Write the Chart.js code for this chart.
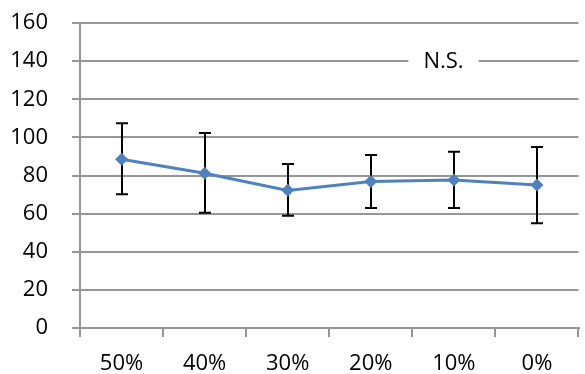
<!DOCTYPE html>
<html>
<head>
<meta charset="utf-8">
<script src="https://cdn.jsdelivr.net/npm/chart.js@4"></script>
<style>
  html, body { margin: 0; padding: 0; background: #fff; }
  #wrap { width: 585px; height: 374px; }
</style>
</head>
<body>
<div id="wrap"><canvas id="c" width="585" height="374"></canvas></div>
<script>
// Categories along the x axis
const categories = ['50%', '40%', '30%', '20%', '10%', '0%'];
// Mean values for each category
const means = [88.5, 81.2, 72.2, 76.8, 77.6, 75.0];
// Error bar limits (upper / lower)
const upper = [107.4, 102.3, 86.0, 90.8, 92.5, 95.0];
const lower = [70.1, 60.5, 58.9, 63.0, 63.0, 54.9];
// Y axis range and step
const yMin = 0, yMax = 160, yStep = 20;
// Significance note drawn on the 140 gridline
const noteText = 'N.S.';
const noteValue = 140;
const noteIndex = 3.875;

const FONT = { family: '"Open Sans", sans-serif', size: 22 };
const GRID = '#969696';

const errorBars = {
  id: 'errorBars',
  beforeDatasetsDraw(chart) {
    const { ctx, scales: { x, y } } = chart;
    ctx.save();
    ctx.strokeStyle = '#000';
    ctx.lineWidth = 2;
    const cap = 6;
    categories.forEach((_, i) => {
      const px = Math.round(x.getPixelForValue(i));
      const top = y.getPixelForValue(upper[i]);
      const bot = y.getPixelForValue(lower[i]);
      ctx.beginPath();
      ctx.moveTo(px, top); ctx.lineTo(px, bot);
      ctx.moveTo(px - cap, top); ctx.lineTo(px + cap, top);
      ctx.moveTo(px - cap, bot); ctx.lineTo(px + cap, bot);
      ctx.stroke();
    });
    ctx.restore();
  }
};

const noteLabel = {
  id: 'noteLabel',
  afterDraw(chart) {
    const { ctx, scales: { x, y } } = chart;
    const px = x.getPixelForValue(noteIndex);
    const py = y.getPixelForValue(noteValue);
    ctx.save();
    ctx.font = `${FONT.size}px ${FONT.family}`;
    const w = ctx.measureText(noteText).width + 30;
    ctx.fillStyle = '#fff';
    ctx.fillRect(px - w / 2, py - 14, w, 28);
    ctx.fillStyle = '#000';
    ctx.textAlign = 'center';
    ctx.textBaseline = 'middle';
    ctx.fillText(noteText, px, py + 1);
    ctx.restore();
  }
};

new Chart(document.getElementById('c'), {
  type: 'line',
  data: {
    labels: categories,
    datasets: [{
      data: means,
      borderColor: '#4f81bd',
      backgroundColor: '#4f81bd',
      borderWidth: 3,
      pointStyle: 'rectRot',
      pointRadius: 6.5,
      pointHoverRadius: 6.5,
      pointBorderWidth: 0,
      tension: 0
    }]
  },
  options: {
    responsive: false,
    animation: false,
    devicePixelRatio: 1,
    layout: { padding: { top: 23, right: 2, left: 0, bottom: 0 } },
    plugins: { legend: { display: false }, tooltip: { enabled: false } },
    scales: {
      x: {
        offset: true,
        grid: { offset: true, drawOnChartArea: false, color: GRID, tickLength: 9, lineWidth: 2 },
        border: { color: GRID, width: 2 },
        ticks: { font: FONT, color: '#000', padding: 14, maxRotation: 0 },
        afterFit(s) { s.height = 46; s.paddingLeft = 0; s.paddingRight = 0; }
      },
      y: {
        min: yMin, max: yMax,
        grid: { color: GRID, tickLength: 8, lineWidth: 2 },
        border: { color: GRID, width: 2 },
        ticks: { stepSize: yStep, font: FONT, color: '#000', padding: 24 },
        afterFit(s) { s.width = 80; s.paddingTop = 0; s.paddingBottom = 0; }
      }
    }
  },
  plugins: [errorBars, noteLabel]
});
</script>
</body>
</html>
